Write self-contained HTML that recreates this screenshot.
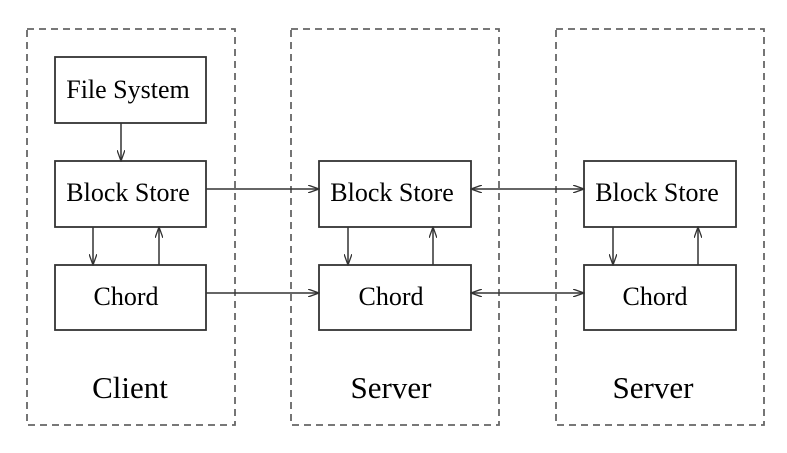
<!DOCTYPE html>
<html><head><style>
body{margin:0;background:#fff;width:787px;height:453px;position:relative;overflow:hidden}
.t{position:absolute;font-family:"Liberation Serif",serif;color:#000;font-size:26px;line-height:1;text-align:center;width:200px;white-space:nowrap}
.l{font-size:31px}
svg{position:absolute;left:0;top:0}
</style></head><body>
<svg width="787" height="453" xmlns="http://www.w3.org/2000/svg" fill="none" stroke="#444">
<defs><marker id="a" markerWidth="12" markerHeight="8" refX="11" refY="4" orient="auto-start-reverse" markerUnits="userSpaceOnUse"><path d="M0,0 L11,4 L0,8" stroke="#333" fill="none" stroke-width="1.3"/></marker></defs>
<g stroke-dasharray="7,5" stroke-width="1.8" stroke="#666">
<rect x="27" y="29" width="208" height="396"/>
<rect x="291" y="29" width="208" height="396"/>
<rect x="556" y="29" width="208" height="396"/>
</g>
<g stroke-width="1.8" stroke="#333">
<rect x="55" y="57" width="151" height="66"/>
<rect x="55" y="161" width="151" height="66"/>
<rect x="55" y="265" width="151" height="65"/>
<rect x="319" y="161" width="152" height="66"/>
<rect x="319" y="265" width="152" height="65"/>
<rect x="584" y="161" width="152" height="66"/>
<rect x="584" y="265" width="152" height="65"/>
</g>
<g stroke-width="1.5" stroke="#333" marker-end="url(#a)">
<line x1="121" y1="123" x2="121" y2="161"/>
<line x1="93" y1="227" x2="93" y2="265"/>
<line x1="159" y1="265" x2="159" y2="227"/>
<line x1="348" y1="227" x2="348" y2="265"/>
<line x1="433" y1="265" x2="433" y2="227"/>
<line x1="613" y1="227" x2="613" y2="265"/>
<line x1="698" y1="265" x2="698" y2="227"/>
<line x1="206" y1="189" x2="319" y2="189"/>
<line x1="206" y1="293" x2="319" y2="293"/>
<line x1="471" y1="189" x2="584" y2="189" marker-start="url(#a)"/>
<line x1="471" y1="293" x2="584" y2="293" marker-start="url(#a)"/>
</g>
</svg>
<div class="t" style="left:28px;top:77px">File System</div>
<div class="t" style="left:28px;top:180px">Block Store</div>
<div class="t" style="left:26px;top:284px">Chord</div>
<div class="t" style="left:292px;top:180px">Block Store</div>
<div class="t" style="left:291px;top:284px">Chord</div>
<div class="t" style="left:557px;top:180px">Block Store</div>
<div class="t" style="left:555px;top:284px">Chord</div>
<div class="t l" style="left:30px;top:372px">Client</div>
<div class="t l" style="left:291px;top:372px">Server</div>
<div class="t l" style="left:553px;top:372px">Server</div>
</body></html>
